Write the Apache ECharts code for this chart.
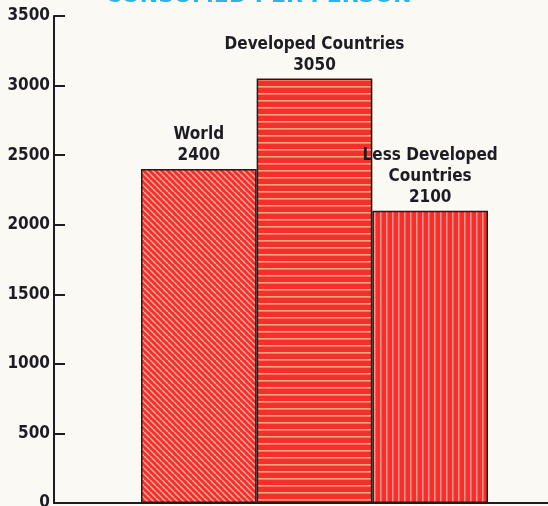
<!DOCTYPE html>
<html>
<head>
<meta charset="utf-8">
<script src="https://cdn.jsdelivr.net/npm/echarts@6/dist/echarts.min.js"></script>
<style>
  html, body { margin: 0; padding: 0; background: #fbf9f4; }
  #chart { width: 548px; height: 506px; }
</style>
</head>
<body>
<div id="chart"></div>
<script>
// data
var categories = ['World', 'Developed Countries', 'Less Developed\nCountries'];
var values = [2400, 3050, 2100];
var yTicks = [0, 500, 1000, 1500, 2000, 2500, 3000, 3500];
var titleText = 'CONSUMED PER PERSON';

var barRed = '#f5302c';
var ink = '#1d1c24';

// stripe fills, one per bar
function makePattern(kind) {
    var c = document.createElement('canvas');
    var size = 6;
    c.width = size;
    c.height = kind === 'horiz' ? 7 : size;
    var ctx = c.getContext('2d');
    ctx.fillStyle = barRed;
    ctx.fillRect(0, 0, c.width, c.height);
    if (kind === 'diag') {
        ctx.strokeStyle = '#ffa596';
        ctx.lineWidth = 1.5;
        for (var k = -size; k <= size * 2; k += size) {
            ctx.beginPath();
            ctx.moveTo(k, 0);
            ctx.lineTo(k + size, size);
            ctx.stroke();
        }
    } else if (kind === 'horiz') {
        ctx.fillStyle = '#ffa57c';
        ctx.fillRect(0, 2, size, 1.6);
    } else {
        ctx.fillStyle = '#ff958a';
        ctx.fillRect(2, 0, 1.5, size);
    }
    return { image: c, repeat: 'repeat' };
}
var fills = [makePattern('diag'), makePattern('horiz'), makePattern('vert')];

var chart = echarts.init(document.getElementById('chart'));

var option = {
    backgroundColor: '#fbf9f4',
    animation: false,
    title: {
        text: titleText,
        left: 100,
        top: -20,
        textStyle: {
            color: '#2fb3e6',
            fontFamily: 'DejaVu Sans',
            fontWeight: 'bold',
            fontSize: 22
        }
    },
    grid: [
        // frame with the axes
        { left: 54, right: 0, top: 16, bottom: 3, containLabel: false, outerBoundsMode: 'none' },
        // bars
        { left: 141, right: 60, top: 16, bottom: 3, containLabel: false, outerBoundsMode: 'none' }
    ],
    xAxis: [
        {
            gridIndex: 0,
            type: 'value',
            min: 0,
            max: 1,
            axisLine: { show: true, lineStyle: { color: ink, width: 2 } },
            axisTick: { show: false },
            axisLabel: { show: false },
            splitLine: { show: false }
        },
        {
            gridIndex: 1,
            type: 'category',
            data: categories,
            axisLine: { show: false },
            axisTick: { show: false },
            axisLabel: { show: false },
            splitLine: { show: false }
        }
    ],
    yAxis: [
        {
            gridIndex: 0,
            type: 'value',
            min: yTicks[0],
            max: yTicks[yTicks.length - 1],
            interval: 500,
            axisLine: { show: true, lineStyle: { color: ink, width: 2 } },
            axisTick: { show: true, inside: true, length: 11, lineStyle: { color: ink, width: 2 } },
            axisLabel: {
                color: ink,
                margin: 4,
                fontFamily: '"Liberation Sans Narrow", "DejaVu Sans Condensed", sans-serif',
                fontWeight: 'bold',
                fontSize: 17,
                formatter: function (v) { return String(v); }
            },
            splitLine: { show: false }
        },
        {
            gridIndex: 1,
            type: 'value',
            min: yTicks[0],
            max: yTicks[yTicks.length - 1],
            show: false
        }
    ],
    series: [{
        type: 'bar',
        xAxisIndex: 1,
        yAxisIndex: 1,
        barWidth: '100%',
        data: values.map(function (v, i) {
            return { value: v, itemStyle: { color: fills[i] } };
        }),
        itemStyle: {
            borderColor: '#2a1616',
            borderWidth: 1.5
        },
        label: {
            show: true,
            position: 'top',
            distance: 3,
            color: ink,
            fontFamily: '"DejaVu Sans Condensed", "Liberation Sans Narrow", sans-serif',
            fontWeight: 'bold',
            fontSize: 17,
            lineHeight: 21,
            align: 'center',
            formatter: function (p) {
                return p.name + '\n' + p.value;
            }
        }
    }]
};

chart.setOption(option);
</script>
</body>
</html>
